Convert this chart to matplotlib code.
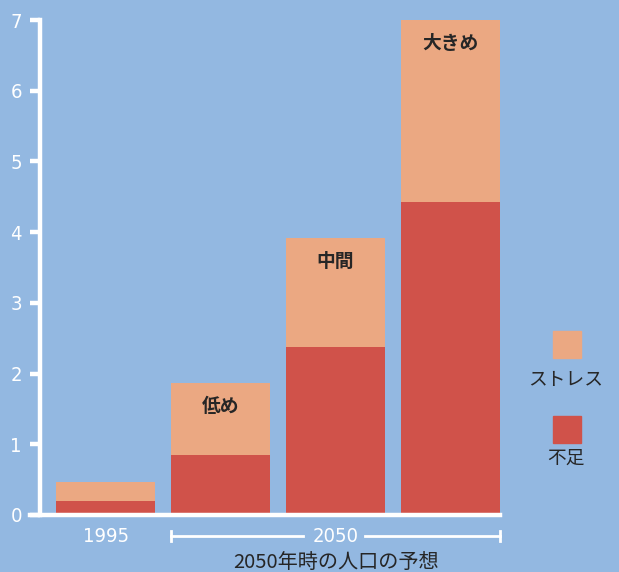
import matplotlib.pyplot as plt
import numpy as np

# data
groups = ['1995', '低め', '中間', '大きめ']
shortage = [0.2, 0.85, 2.37, 4.42]      # 不足
stress = [0.26, 1.02, 1.55, 2.58]       # ストレス
yticks = [0, 1, 2, 3, 4, 5, 6, 7]

bg = '#93b8e1'
c_short = '#d0524a'
c_stress = '#eba882'
dark = '#262626'
jp = ['Noto Sans CJK JP', 'DejaVu Sans']

fig = plt.figure(figsize=(6.19, 5.72), dpi=100, facecolor=bg)
ax = fig.add_axes([40 / 619, 1 - 515 / 572, 460 / 619, 495 / 572])
ax.set_facecolor(bg)

x = np.arange(len(groups))
w = 0.86
ax.bar(x, shortage, width=w, color=c_short, zorder=2)
ax.bar(x, stress, width=w, bottom=shortage, color=c_stress, zorder=2)

# scenario labels inside the 2050 bars
for i in range(1, len(groups)):
    top = shortage[i] + stress[i]
    ax.text(x[i], top - 0.33, groups[i], ha='center', va='center',
            fontsize=13.5, fontweight='bold', color=dark, family=jp)

ax.set_xlim(-0.57, 3.43)
ax.set_ylim(0, 7)

for s in ['top', 'right']:
    ax.spines[s].set_visible(False)
for s in ['left', 'bottom']:
    ax.spines[s].set_color('white')
    ax.spines[s].set_linewidth(3.2)
ax.spines['bottom'].set_bounds(-0.66, 3.43)

ax.set_yticks(yticks)
ax.set_xticks([])
ax.tick_params(axis='y', colors='white', length=7, width=3.2, pad=6,
               labelsize=14.5)
for lab in ax.get_yticklabels():
    lab.set_fontstretch('condensed')

# x labels
ax.text(x[0], -0.3, groups[0], ha='center', va='center', color='white',
        fontsize=14.5, fontstretch='condensed', clip_on=False)
x0 = x[1] - w / 2
x1 = x[3] + w / 2
xm = (x0 + x1) / 2
ax.text(xm, -0.3, '2050', ha='center', va='center', color='white',
        fontsize=14.5, fontstretch='condensed', clip_on=False)
yb = -0.295
ax.plot([x0, xm - 0.28], [yb, yb], color='white', lw=2, clip_on=False)
ax.plot([xm + 0.26, x1], [yb, yb], color='white', lw=2, clip_on=False)
for xe in [x0, x1]:
    ax.plot([xe, xe], [yb - 0.07, yb + 0.07], color='white', lw=2,
            clip_on=False)
ax.text(xm, -0.67, '2050年時の人口の予想', ha='center', va='center',
        color=dark, fontsize=14.5, family=jp, clip_on=False)

# legend drawn by hand on the right
fig.patches.append(plt.Rectangle((553 / 619, 1 - 358 / 572), 28 / 619, 27 / 572,
                                 transform=fig.transFigure, color=c_stress))
fig.patches.append(plt.Rectangle((553 / 619, 1 - 443 / 572), 28 / 619, 27 / 572,
                                 transform=fig.transFigure, color=c_short))
fig.text(566 / 619, 1 - 380 / 572, 'ストレス', ha='center', va='center',
         fontsize=13.5, color=dark, family=jp)
fig.text(566 / 619, 1 - 458 / 572, '不足', ha='center', va='center',
         fontsize=13.5, color=dark, family=jp)

fig.savefig('out.png', dpi=100, facecolor=bg)
